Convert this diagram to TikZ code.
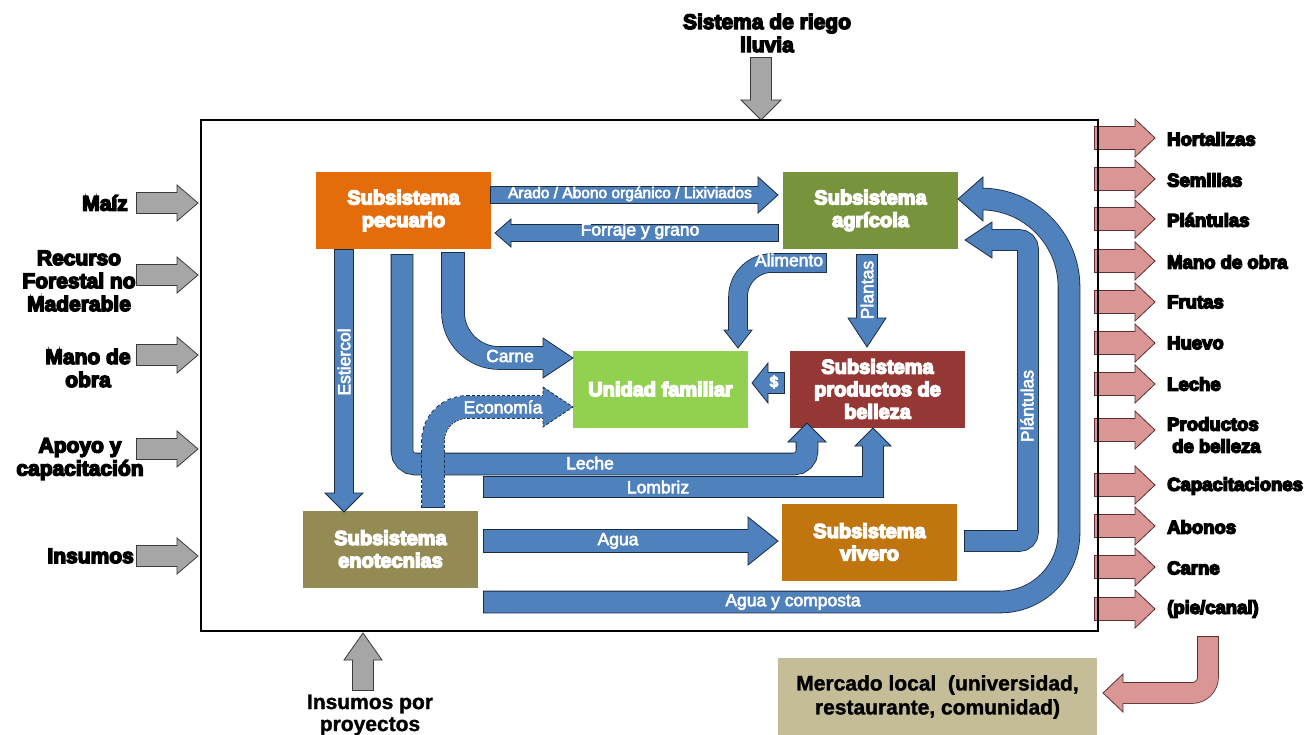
\documentclass[tikz,border=0pt]{standalone}
\usepackage{fontspec}
\setmainfont{Liberation Sans}
\usetikzlibrary{calc}

% glyph render modes: filled+stroked outlines thicken the letters
\newcommand\heavyink{\special{pdf:literal direct 2 Tr 1.4 w}}
\newcommand\semiink{\special{pdf:literal direct 2 Tr 0.55 w}}
\newcommand\plainink{\special{pdf:literal direct 2 Tr 0.3 w}}

\definecolor{flow}{HTML}{4F81BD}
\definecolor{flowedge}{HTML}{1B2A3F}
\definecolor{grayfill}{HTML}{A6A6A6}
\definecolor{grayedge}{HTML}{3A3A3A}
\definecolor{pinkfill}{HTML}{D99694}
\definecolor{pinkedge}{HTML}{5C2E2E}
\definecolor{pecC}{HTML}{E46C0A}
\definecolor{agrC}{HTML}{77933C}
\definecolor{uniC}{HTML}{92D050}
\definecolor{belC}{HTML}{953735}
\definecolor{enoC}{HTML}{948A54}
\definecolor{vivC}{HTML}{C0750F}
\definecolor{merC}{HTML}{C4BD97}

% Block arrow: outlined shaft along a centre line plus an outlined head.
% #1 extra outline options, #2 fill, #3 outline, #4 shaft width,
% #5 centre line (ending just inside the head), #6 head polygon
\newcommand\fatarrow[6][]{%
  \draw[line width=#4+1.6pt, draw=#3, shorten <=-0.8pt, #1] #5;
  \filldraw[fill=#2, draw=#3, line width=0.8pt, #1] #6 -- cycle;
  \draw[line width=#4, draw=#2] #5;
}

\tikzset{
  sysbox/.style={minimum width=175pt, minimum height=77pt, inner sep=0pt,
    text=white, align=center, font=\bfseries\fontsize{20}{22.5}\selectfont\heavyink},
  outlab/.style={align=center, inner sep=0pt,
    font=\bfseries\fontsize{21}{23}\selectfont\heavyink},
  outlist/.style={anchor=west, align=left, inner sep=0pt,
    font=\bfseries\fontsize{18.5}{22}\selectfont\heavyink},
  flowlab/.style={text=white, inner sep=0pt, font=\fontsize{17.5}{20}\selectfont\semiink},
  plainlab/.style={align=center, inner sep=0pt, font=\bfseries\fontsize{21}{24}\selectfont\plainink},
}

\begin{document}
\begin{tikzpicture}[x=1pt, y=-1pt, line join=miter]
\useasboundingbox (0,0) rectangle (1313,735);
\fill[white] (0,0) rectangle (1313,735);

% ---- subsystems ----
\node[sysbox, fill=pecC] (pec) at (403.5,210.5) {Subsistema\\pecuario};
\node[sysbox, fill=agrC] (agr) at (870.5,210.5) {Subsistema\\agrícola};
\node[sysbox, fill=uniC] (uni) at (660.5,389) {Unidad familiar};
\node[sysbox, fill=belC] (bel) at (877.5,389) {Subsistema\\productos de\\belleza};
\node[sysbox, fill=enoC] (eno) at (390.5,549) {Subsistema\\enotecnias};
\node[sysbox, fill=vivC] (viv) at (869.5,542) {Subsistema\\vivero};

% ---- internal flows ----
% Arado / Abono organico / Lixiviados
\fatarrow{flow}{flowedge}{16pt}{(491,195) -- (762,195)}{(758,177) -- (778,195) -- (758,213)}
% Forraje y grano
\fatarrow{flow}{flowedge}{16pt}{(778,233) -- (508,233)}{(511,219) -- (495,233) -- (511,247)}
% Estiercol
\fatarrow{flow}{flowedge}{18pt}{(344,250) -- (344,495)}{(325,493) -- (344,512) -- (363,493)}
% Leche
\fatarrow{flow}{flowedge}{21pt}{(402,255) [rounded corners=13pt] -- (402,464) -- (807,464) -- (807,440)}{(788,442) -- (807,423) -- (826,442)}
% Carne
\fatarrow{flow}{flowedge}{22pt}{(453,253) [rounded corners=46pt] -- (453,358) -- (545,358)}{(543,338) -- (573,358) -- (543,378)}
% Economia (dashed)
\fatarrow[dash pattern=on 3pt off 2pt]{flow}{flowedge}{22pt}{(433,507) [rounded corners=34pt] -- (433,407) -- (545,407)}{(543,387) -- (573,407) -- (543,427)}
% Lombriz
\fatarrow{flow}{flowedge}{20pt}{(484,487) -- (873,487) -- (873,444)}{(855,446) -- (873,428) -- (891,446)}
% Alimento
\fatarrow{flow}{flowedge}{18pt}{(826,263) [rounded corners=34pt] -- (738,263) -- (738,332)}{(724,330) -- (738,348) -- (752,330)}
% Plantas
\fatarrow{flow}{flowedge}{20pt}{(867,255) -- (867,320)}{(848,318) -- (867,347) -- (886,318)}
% $
\fatarrow{flow}{flowedge}{20pt}{(784,383) -- (766,383)}{(768,363) -- (752,383) -- (768,403)}
% Agua
\fatarrow{flow}{flowedge}{22pt}{(484,541) -- (750,541)}{(748,517) -- (778,541) -- (748,565)}
% Plantulas
\fatarrow{flow}{flowedge}{20pt}{(965,541) [rounded corners=9pt] -- (1028,541) -- (1028,240) -- (990,240)}{(992,222) -- (965,240) -- (992,258)}
% Agua y composta
\fatarrow{flow}{flowedge}{21pt}{(484,602) -- (1000,602) .. controls (1038,602) and (1069,571) .. (1069,533) -- (1069,287) .. controls (1069,238.4) and (1029.6,199) .. (981,199)}{(983,177) -- (958,199) -- (983,221)}

% ---- flow labels ----
\node[flowlab, font=\fontsize{15.5}{18}\selectfont\semiink] (lArado) at (630,194) {Arado / Abono orgánico / Lixiviados};
\node[flowlab] (lForraje) at (640,231) {Forraje y grano};
\node[flowlab, rotate=90] (lEst) at (344,362) {Estiercol};
\node[flowlab] (lCarne) at (510,356) {Carne};
\node[flowlab] (lEco) at (503,407) {Economía};
\node[flowlab] (lLeche) at (590,463) {Leche};
\node[flowlab] (lLomb) at (658,487) {Lombriz};
\node[flowlab] (lAli) at (789,260) {Alimento};
\node[flowlab, rotate=90] (lPlantas) at (867,290) {Plantas};
\node[flowlab, font=\bfseries\fontsize{16}{18}\selectfont\semiink] (lPeso) at (774,382) {\$};
\node[flowlab, rotate=90] (lPlant) at (1027,406) {Plántulas};
\node[flowlab] (lAgua) at (618,541) {Agua};
\node[flowlab] (lAyC) at (793,602) {Agua y composta};

% ---- outputs ----
\foreach \y in {138,179,219,261,302,343,384,430,485,526,567,609}{
  \fatarrow{pinkfill}{pinkedge}{22pt}{(1095,\y) -- (1137,\y)}{(1135,\y-19) -- (1155,\y) -- (1135,\y+19)}
}
\foreach \y/\t in {139/Hortalizas, 180/Semillas, 220/Plántulas, 262/Mano de obra,
  302/Frutas, 343/Huevo, 384/Leche, 486/Capacitaciones, 527/Abonos, 568/Carne}{
  \node[outlist] (out\y) at (1167,\y) {\t};
}
\node[outlist] (outPB) at (1167,435) {Productos\\\hspace{5pt}de belleza};
\node[outlist] (outPC) at (1167,609) {(pie/canal)};

% market
\node[plainlab, fill=merC, minimum width=319pt, minimum height=78pt] (mer) at (937.5,697)
  {Mercado local\ \ (universidad,\\restaurante, comunidad)};
\fatarrow{pinkfill}{pinkedge}{20pt}{(1208,637) [rounded corners=16pt] -- (1208,693) -- (1121,693)}{(1123,674) -- (1103,693) -- (1123,712)}

% ---- inputs ----
\foreach \y in {203,275,355,449,556}{
  \fatarrow{grayfill}{grayedge}{20pt}{(137,\y) -- (179,\y)}{(177,\y-18) -- (198,\y) -- (177,\y+18)}
}
\node[outlab, anchor=east] (inMaiz) at (128,203) {Maíz};
\node[outlab] (inRec) at (79,281) {Recurso\\Forestal no\\Maderable};
\node[outlab] (inMano) at (88,368) {Mano de\\obra};
\node[outlab] (inApoyo) at (80,459) {Apoyo y\\capacitación};
\node[outlab, anchor=east] (inIns) at (134,556) {Insumos};

\fatarrow{grayfill}{grayedge}{20pt}{(761,58) -- (761,102)}{(741,100) -- (761,120) -- (781,100)}
\node[outlab] (inRiego) at (767,33) {Sistema de riego\\lluvia};

\fatarrow{grayfill}{grayedge}{20pt}{(363,690) -- (363,658)}{(344,660) -- (363,633) -- (382,660)}
\node[plainlab, font=\bfseries\fontsize{21}{22}\selectfont\plainink] (inProy) at (370,715) {Insumos por\\proyectos};

% system boundary
\draw[line width=1.8pt] (201,120) rectangle (1098,631);
\end{tikzpicture}
\end{document}
